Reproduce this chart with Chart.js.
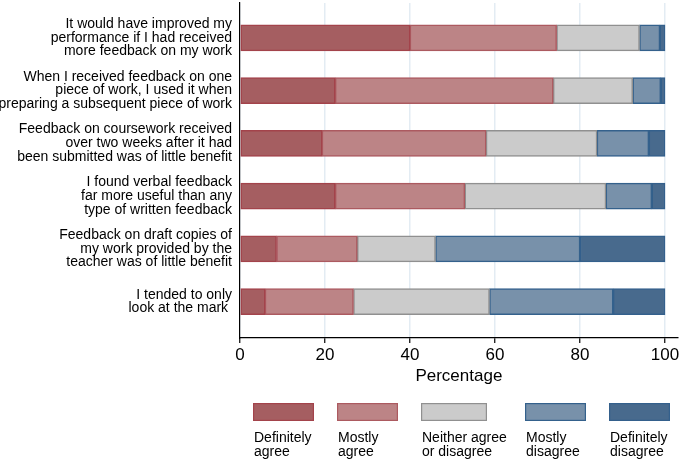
<!DOCTYPE html>
<html>
<head>
<meta charset="utf-8">
<script src="https://cdn.jsdelivr.net/npm/chart.js@4/dist/chart.umd.min.js"></script>
<style>
  html, body { margin: 0; padding: 0; background: #fff; }
  #wrap { width: 685px; height: 460px; }
</style>
</head>
<body>
<div id="wrap"><canvas id="c" width="685" height="460"></canvas></div>
<script>
// ---- data ----
const categories = [
  ["It would have improved my", "performance if I had received", "more feedback on my work"],
  ["When I received feedback on one", "piece of work, I used it when", "preparing a subsequent piece of work"],
  ["Feedback on coursework received", "over two weeks after it had", "been submitted was of little benefit"],
  ["I found verbal feedback", "far more useful than any", "type of written feedback"],
  ["Feedback on draft copies of", "my work provided by the", "teacher was of little benefit"],
  ["I tended to only", "look at the mark "]
];
const seriesNames = ["Definitely agree", "Mostly agree", "Neither agree or disagree", "Mostly disagree", "Definitely disagree"];
const legendLines = [["Definitely", "agree"], ["Mostly", "agree"], ["Neither agree", "or disagree"], ["Mostly", "disagree"], ["Definitely", "disagree"]];
const definitelyAgree    = [40.0, 22.4, 19.3, 22.4,  8.6,  5.9];
const mostlyAgree        = [34.5, 51.3, 38.6, 30.5, 19.0, 20.8];
const neither            = [19.5, 18.7, 26.1, 33.2, 18.4, 32.0];
const mostlyDisagree     = [ 4.8,  6.6, 12.2, 10.8, 34.0, 29.1];
const definitelyDisagree = [ 1.2,  1.0,  3.8,  3.1, 20.0, 12.2];
const xTicks = [0, 20, 40, 60, 80, 100];
const xTitle = "Percentage";

// ---- styles ----
const fills   = ["#a55e61", "#bc8486", "#cbcbcb", "#7891aa", "#486a8d"];
const borders = ["#a3434b", "#ac5a60", "#909090", "#34618c", "#34608c"];
const FONT = "'Liberation Sans', Arial, Helvetica, sans-serif";

const seriesValues = [definitelyAgree, mostlyAgree, neither, mostlyDisagree, definitelyDisagree];
const datasets = seriesValues.map((vals, s) => ({
  label: seriesNames[s],
  data: vals.map((v, i) => ({ x: v, y: i })),
  backgroundColor: fills[s],
  borderColor: borders[s],
  borderWidth: 1.5,
  borderSkipped: false,
  barThickness: 26
}));

const legendLayout = { xs: [253, 337, 421, 525, 609], ws: [61, 61, 66, 61, 61], y: 403, h: 18, textY: 438, lineGap: 14 };

const legendPlugin = {
  id: 'bottomLegend',
  afterDraw(chart) {
    const ctx = chart.ctx;
    ctx.save();
    chart.data.datasets.forEach((ds, i) => {
      const x = legendLayout.xs[i], w = legendLayout.ws[i];
      ctx.fillStyle = ds.backgroundColor;
      ctx.fillRect(x, legendLayout.y, w, legendLayout.h);
      ctx.strokeStyle = ds.borderColor;
      ctx.lineWidth = 1.2;
      ctx.strokeRect(x + 0.6, legendLayout.y + 0.6, w - 1.2, legendLayout.h - 1.2);
      ctx.fillStyle = '#000';
      ctx.font = "14px " + FONT;
      ctx.textAlign = 'left';
      ctx.textBaseline = 'middle';
      legendLines[i].forEach((ln, k) => {
        ctx.fillText(ln, x + 1, legendLayout.textY + k * legendLayout.lineGap);
      });
    });
    ctx.restore();
  }
};

new Chart(document.getElementById('c'), {
  type: 'bar',
  data: { datasets },
  options: {
    indexAxis: 'y',
    responsive: false,
    animation: false,
    devicePixelRatio: 1,
    layout: { padding: { top: 3, right: 7.25, bottom: 0, left: 0 } },
    plugins: { legend: { display: false }, tooltip: { enabled: false } },
    scales: {
      x: {
        type: 'linear',
        stacked: true,
        min: 0,
        max: 103,
        offset: false,
        afterBuildTicks(scale) { scale.ticks = xTicks.map(v => ({ value: v })); },
        afterFit(scale) { scale.height = 122; scale.paddingLeft = 0; scale.paddingRight = 0; },
        grid: { color: '#e3ecf3', lineWidth: 1.5, tickColor: '#000', tickLength: 5, tickWidth: 1.2, drawTicks: true, offset: false },
        border: { display: true, color: '#000', width: 1.2 },
        ticks: { color: '#000', font: { family: FONT, size: 17 }, padding: 2, maxRotation: 0 },
        title: { display: true, text: xTitle, color: '#000', font: { family: FONT, size: 17 }, padding: { top: 0, bottom: 73.8 } }
      },
      y: {
        type: 'linear',
        stacked: true,
        reverse: true,
        offset: false,
        min: -0.66,
        max: 5.69,
        afterBuildTicks(scale) { scale.ticks = categories.map((_, i) => ({ value: i })); },
        afterFit(scale) { scale.width = 240; scale.paddingTop = 0; scale.paddingBottom = 0; },
        grid: { display: false, drawTicks: false, tickLength: 0, offset: false },
        border: { display: true, color: '#000', width: 1.2 },
        ticks: {
          autoSkip: false,
          color: '#000',
          padding: 8,
          font: { family: FONT, size: 14, lineHeight: 0.98 },
          callback: (v) => categories[v]
        }
      }
    }
  },
  plugins: [legendPlugin]
});
</script>
</body>
</html>
